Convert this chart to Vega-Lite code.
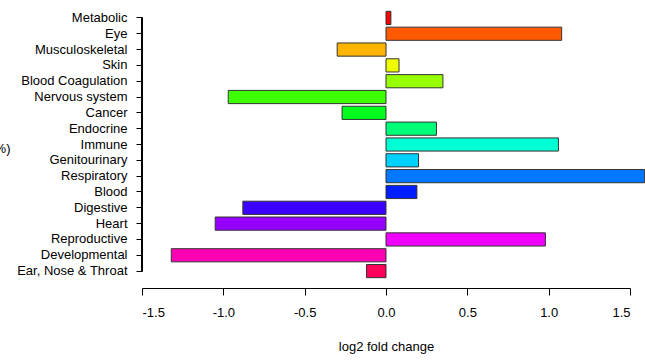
{
  "$schema": "https://vega.github.io/schema/vega-lite/v6.json",
  "autosize": {"type": "none"},
  "padding": {"left": 142, "top": 10, "right": 15, "bottom": 83},
  "width": 488,
  "height": 269,
  "background": "white",
  "config": {
    "view": {"stroke": null},
    "font": "Liberation Sans",
    "axis": {"grid": false, "labelFont": "Liberation Sans", "titleFont": "Liberation Sans", "labelColor": "#000", "titleColor": "#000", "domainColor": "#000", "tickColor": "#000"}
  },
  "data": {"values": [
    {"category": "Metabolic", "value": 0.03},
    {"category": "Eye", "value": 1.08},
    {"category": "Musculoskeletal", "value": -0.30},
    {"category": "Skin", "value": 0.08},
    {"category": "Blood Coagulation", "value": 0.35},
    {"category": "Nervous system", "value": -0.97},
    {"category": "Cancer", "value": -0.27},
    {"category": "Endocrine", "value": 0.31},
    {"category": "Immune", "value": 1.06},
    {"category": "Genitourinary", "value": 0.20},
    {"category": "Respiratory", "value": 1.59},
    {"category": "Blood", "value": 0.19},
    {"category": "Digestive", "value": -0.88},
    {"category": "Heart", "value": -1.05},
    {"category": "Reproductive", "value": 0.98},
    {"category": "Developmental", "value": -1.32},
    {"category": "Ear, Nose & Throat", "value": -0.12}
  ]},
  "layer": [
    {
      "mark": {"type": "bar", "stroke": "#333333", "strokeWidth": 1, "clip": false},
      "encoding": {
        "y": {
          "field": "category", "type": "nominal", "sort": null,
          "scale": {"paddingInner": 0.1667, "paddingOuter": 0.0833},
          "axis": {
            "title": "(%)", "titleAngle": 0, "titleAlign": "right", "titleBaseline": "middle",
            "titleX": -132, "titleY": 138, "titleFontSize": 13, "titleFontWeight": "normal",
            "domain": false, "tickSize": 6, "labelPadding": 9, "labelFontSize": 13
          }
        },
        "x": {
          "field": "value", "type": "quantitative",
          "scale": {"domain": [-1.5, 1.5], "nice": false, "zero": false},
          "axis": {
            "title": "log2 fold change", "titleFontSize": 13, "titleFontWeight": "normal", "titlePadding": 21,
            "values": [-1.5, -1.0, -0.5, 0.0, 0.5, 1.0, 1.5], "format": ".1f",
            "labelExpr": "replace(datum.label, '\u2212', '-')",
            "offset": 9, "tickSize": 7, "labelPadding": 11, "labelFontSize": 13
          }
        },
        "color": {
          "field": "category", "type": "nominal", "legend": null,
          "scale": {
            "domain": ["Metabolic", "Eye", "Musculoskeletal", "Skin", "Blood Coagulation", "Nervous system", "Cancer", "Endocrine", "Immune", "Genitourinary", "Respiratory", "Blood", "Digestive", "Heart", "Reproductive", "Developmental", "Ear, Nose & Throat"],
            "range": ["#FF0000", "#FF5A00", "#FFB400", "#F0FF00", "#96FF00", "#3CFF00", "#00FF1E", "#00FF78", "#00FFD2", "#00D2FF", "#0078FF", "#001EFF", "#3C00FF", "#9600FF", "#F000FF", "#FF00B4", "#FF005A"]
          }
        }
      }
    },
    {
      "mark": {"type": "rule", "color": "#000", "strokeWidth": 1},
      "encoding": {
        "x": {"datum": -1.5},
        "y": {"datum": "Metabolic"},
        "y2": {"datum": "Ear, Nose & Throat"}
      }
    }
  ]
}
